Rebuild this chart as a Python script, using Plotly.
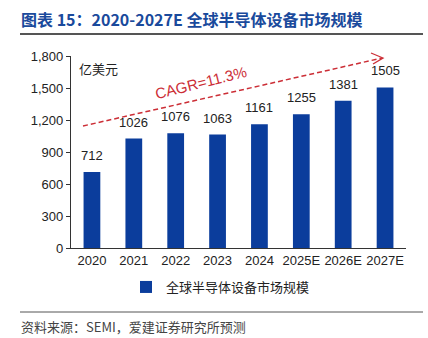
import plotly.graph_objects as go

years = ["2020", "2021", "2022", "2023", "2024", "2025E", "2026E", "2027E"]
market_size = [712, 1026, 1076, 1063, 1161, 1255, 1381, 1505]
y_ticks = [0, 300, 600, 900, 1200, 1500, 1800]
y_tick_text = ["0", "300", "600", "900", "1,200", "1,500", "1,800"]
series_name = "全球半导体设备市场规模"

BAR_BLUE = "#0B3D9C"
RED = "#CC2E36"
LATIN = "Liberation Sans, Arial, sans-serif"
CJK = "Noto Sans CJK SC, sans-serif"

W, H = 428, 338
L, R, T, B = 71, 22, 56, 90
PW, PH = W - L - R, H - T - B


def px(x):
    return (x - L) / PW


def py(y):
    return (T + PH - y) / PH


fig = go.Figure()
fig.add_trace(go.Bar(
    x=years, y=market_size, name=series_name,
    marker=dict(color=BAR_BLUE, line=dict(width=0)),
    cliponaxis=False, showlegend=True,
))

shapes = [
    # rule under the title and above the source note
    dict(type="line", xref="paper", yref="paper", x0=px(20), x1=px(423),
         y0=py(34), y1=py(34), line=dict(color="#555555", width=2)),
    dict(type="line", xref="paper", yref="paper", x0=px(20), x1=px(423),
         y0=py(312), y1=py(312), line=dict(color="#555555", width=1)),
    # dashed growth arrow
    dict(type="line", xref="paper", yref="paper", x0=px(83), y0=py(126),
         x1=px(382), y1=py(58), line=dict(color=RED, width=1.5, dash="5px,3px")),
    dict(type="path", xref="paper", yref="paper",
         path=f"M {px(371)},{py(53)} L {px(383)},{py(58)} L {px(373)},{py(64)}",
         line=dict(color=RED, width=1.3)),
]

# value labels above each bar (category index positions on the x axis)
annotations = [
    dict(text=str(v), x=i, y=v, xref="x", yref="y", xanchor="center",
         yanchor="bottom", yshift=7, showarrow=False,
         font=dict(family=LATIN, size=13, color="#222222"))
    for i, v in enumerate(market_size)
]

annotations += [
    dict(text="<b>图表 15：2020-2027E 全球半导体设备市场规模</b>",
         xref="paper", yref="paper", x=px(19), y=py(19), xanchor="left", yanchor="middle",
         showarrow=False, font=dict(family=CJK, size=16, color="#1A4A9C")),
    dict(text="亿美元", xref="paper", yref="paper", x=px(77), y=py(68),
         xanchor="left", yanchor="middle", showarrow=False,
         font=dict(family=CJK, size=13, color="#222222")),
    dict(text="CAGR=11.3%", xref="paper", yref="paper", x=px(201), y=py(82),
         xanchor="center", yanchor="middle", showarrow=False, textangle=-14,
         font=dict(family=LATIN, size=15, color=RED)),
    dict(text="资料来源：SEMI，爱建证券研究所预测", xref="paper", yref="paper",
         x=px(19), y=py(326), xanchor="left", yanchor="middle", showarrow=False,
         font=dict(family=CJK, size=13, color="#444444")),
]

fig.update_layout(
    width=W, height=H,
    margin=dict(l=L, r=R, t=T, b=B),
    paper_bgcolor="white", plot_bgcolor="white",
    bargap=0.6,
    shapes=shapes, annotations=annotations,
    legend=dict(orientation="h", x=px(126), y=py(287), xanchor="left", yanchor="middle",
                font=dict(family=CJK, size=13, color="#222222"),
                itemwidth=30, bgcolor="rgba(0,0,0,0)"),
    xaxis=dict(type="category", categoryorder="array", categoryarray=years,
               range=[-0.5, len(years) - 0.5],
               showline=True, linecolor="#333333", linewidth=1.2, ticks="",
               tickfont=dict(family=LATIN, size=13, color="#222222"),
               showgrid=False, fixedrange=True),
    yaxis=dict(range=[0, 1800], tickvals=y_ticks, ticktext=y_tick_text,
               showline=True, linecolor="#333333", linewidth=1.2,
               ticks="outside", ticklen=4, tickcolor="#333333",
               tickfont=dict(family=LATIN, size=13, color="#222222"),
               showgrid=False, zeroline=False, fixedrange=True),
    showlegend=True,
)

fig.write_html("out.html")
